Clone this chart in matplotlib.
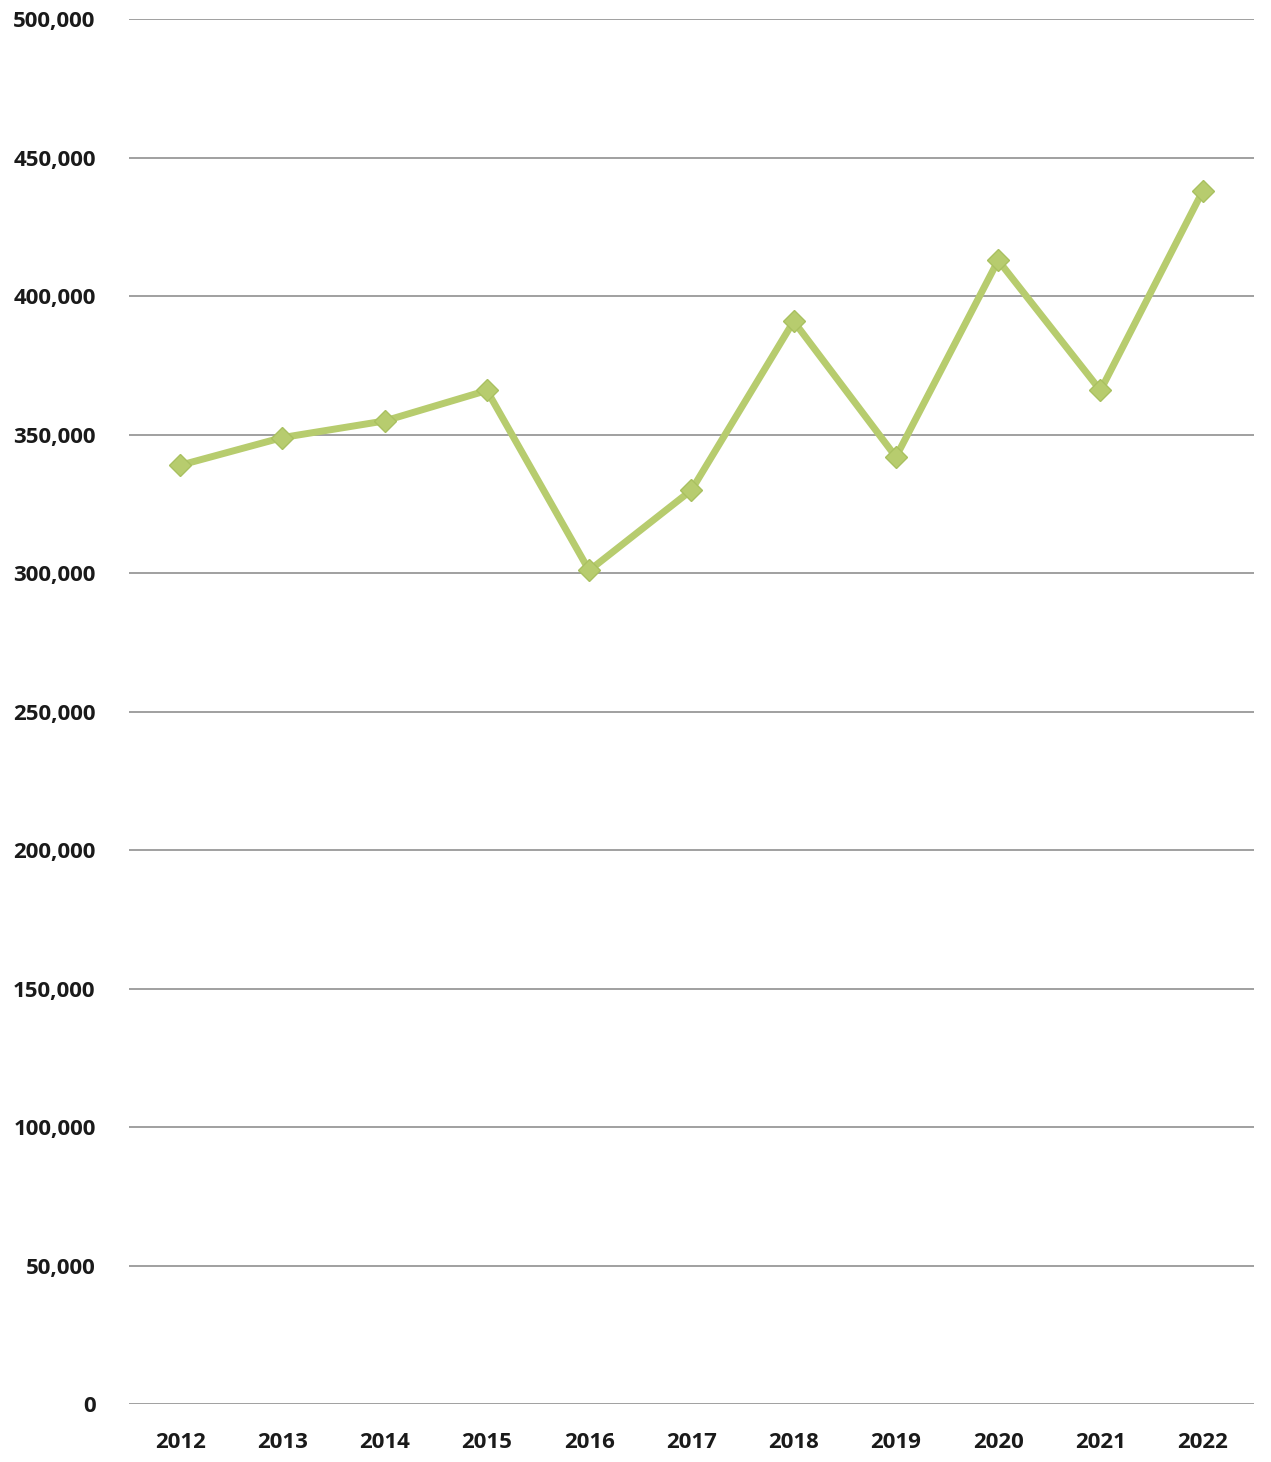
import matplotlib
matplotlib.use("Agg")
import matplotlib.pyplot as plt
from matplotlib.ticker import FuncFormatter

years = ["2012", "2013", "2014", "2015", "2016", "2017", "2018", "2019", "2020", "2021", "2022"]
values = [339000, 349000, 355000, 366000, 301000, 330000, 391000, 342000, 413000, 366000, 438000]
yticks = [0, 50000, 100000, 150000, 200000, 250000, 300000, 350000, 400000, 450000, 500000]

plt.rcParams["font.family"] = ["Open Sans", "DejaVu Sans"]

fig = plt.figure(figsize=(12.71, 14.62), dpi=100)
ax = fig.add_axes([0.1015, 0.0397, 0.885, 0.947])

x = range(len(years))
ax.plot(x, values, color="#b7cc6e", lw=5, marker="D", ms=11,
        mfc="#b7cc6e", mec="#a9c060", zorder=3)

ax.set_xlim(-0.5, len(years) - 0.5)
ax.set_ylim(0, 500000)
ax.set_yticks(yticks)
ax.yaxis.set_major_formatter(FuncFormatter(lambda v, p: f"{int(v):,}"))
ax.set_xticks(list(x))
ax.set_xticklabels(years)
ax.grid(axis="y", color="#999999", lw=1.3)
ax.set_axisbelow(True)
for s in ax.spines.values():
    s.set_visible(False)
ax.tick_params(length=0, labelsize=16, colors="#1a1a1a")
ax.tick_params(axis="y", pad=24)
ax.tick_params(axis="x", pad=20)
for lbl in ax.get_xticklabels() + ax.get_yticklabels():
    lbl.set_fontweight("bold")

fig.savefig("out.png", dpi=100)
